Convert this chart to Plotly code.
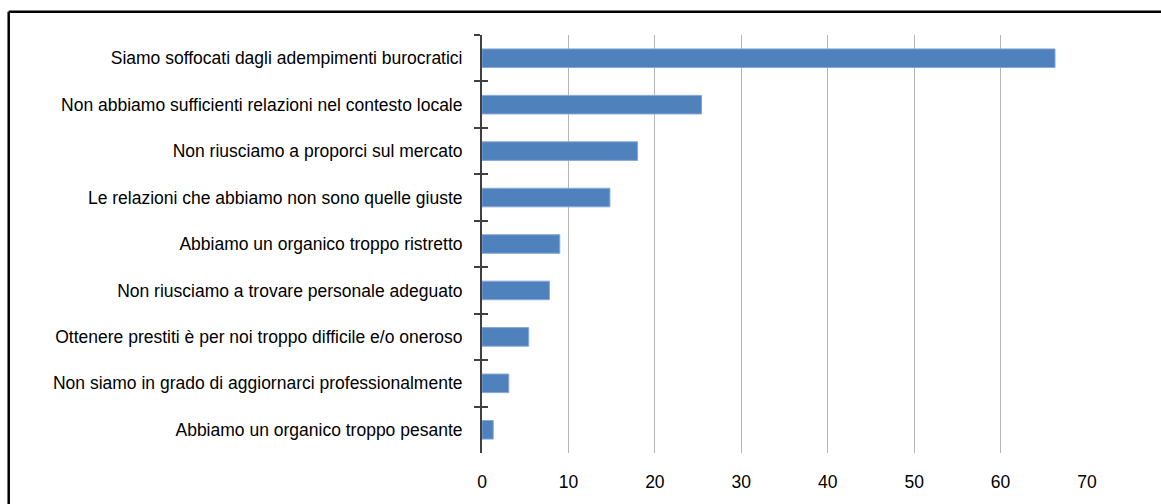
import plotly.graph_objects as go

categories = [
    "Siamo soffocati dagli adempimenti burocratici",
    "Non abbiamo sufficienti relazioni nel contesto locale",
    "Non riusciamo a proporci sul mercato",
    "Le relazioni che abbiamo non sono quelle giuste",
    "Abbiamo un organico troppo ristretto",
    "Non riusciamo a trovare personale adeguato",
    "Ottenere prestiti è per noi troppo difficile e/o oneroso",
    "Non siamo in grado di aggiornarci professionalmente",
    "Abbiamo un organico troppo pesante",
]
values = [66.3, 25.4, 18.0, 14.8, 9.0, 7.8, 5.4, 3.1, 1.3]
x_ticks = [0, 10, 20, 30, 40, 50, 60, 70]

W, H = 1161, 504
L, R, T, B = 482, 74, 35, 51
FONT = "Liberation Sans, Arial, sans-serif"
FSIZE = 17.5

n = len(categories)
yrange = [n - 0.5, -0.5]

fig = go.Figure()
fig.add_trace(go.Bar(
    x=values, y=categories, orientation="h",
    width=0.4,
    marker=dict(color="#4F81BD", line=dict(color="#86A8D6", width=1)),
    showlegend=False, hoverinfo="x+y",
))
# invisible helper trace so the second (tick) axis knows the categories
fig.add_trace(go.Scatter(
    x=values, y=categories, yaxis="y2", mode="markers",
    marker=dict(opacity=0), showlegend=False, hoverinfo="skip",
))

pw = W - L - R
ph = H - T - B
# frame around the whole chart (only left and top edges are inside the picture)
fx0 = (8.7 - L) / pw
fx1 = (W + 10 - L) / pw
fy1 = 1 + (T - 11.7) / ph
fy0 = -(B + 10) / ph
frame = dict(color="black", width=2.5)

fig.update_layout(
    width=W, height=H,
    margin=dict(l=L, r=R, t=T, b=B, pad=0, autoexpand=False),
    paper_bgcolor="white", plot_bgcolor="white",
    font=dict(family=FONT, size=FSIZE, color="#000000"),
    bargap=0.6,
    xaxis=dict(
        range=[0, 70], tickmode="array", tickvals=x_ticks,
        showgrid=True, gridcolor="#B5B5B5", gridwidth=1.4,
        zeroline=False, showline=False,
        ticks="outside", ticklen=13, tickcolor="rgba(0,0,0,0)",
        tickfont=dict(family=FONT, size=FSIZE, color="#000000"),
        automargin=False, fixedrange=True,
    ),
    yaxis=dict(
        type="category", categoryorder="array", categoryarray=categories,
        range=yrange,
        showgrid=False, zeroline=False,
        showline=True, linecolor="#404040", linewidth=2,
        ticks="outside", tickson="boundaries", ticklen=6, tickwidth=2, tickcolor="#404040",
        ticklabelstandoff=14,
        tickfont=dict(family=FONT, size=FSIZE, color="#000000"),
        automargin=False, fixedrange=True,
    ),
    yaxis2=dict(
        type="category", categoryorder="array", categoryarray=categories,
        range=yrange, overlaying="y", side="left",
        showgrid=False, zeroline=False, showline=False,
        ticks="inside", tickson="boundaries", ticklen=6, tickwidth=2, tickcolor="#404040",
        showticklabels=False, automargin=False, fixedrange=True,
    ),
    shapes=[
        dict(type="line", xref="paper", yref="paper",
             x0=fx0, x1=fx0, y0=fy0, y1=fy1, line=frame, layer="above"),
        dict(type="line", xref="paper", yref="paper",
             x0=fx0, x1=fx1, y0=fy1, y1=fy1, line=frame, layer="above"),
    ],
)

fig.write_html(
    "out.html",
    config={"displayModeBar": False},
    post_script="document.body.style.margin='0';document.body.style.overflow='hidden';",
)
